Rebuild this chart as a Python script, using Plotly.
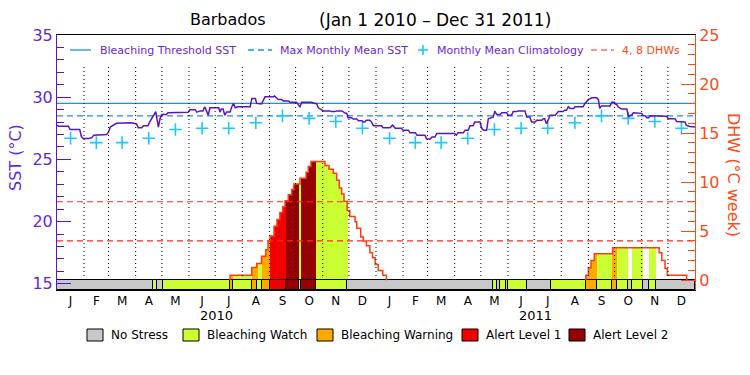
import pandas as pd
import plotly.graph_objects as go

# ---------------- data ----------------
START = pd.Timestamp("2010-01-01")
END = pd.Timestamp("2012-01-01")

MONTH_LETTERS = ["J", "F", "M", "A", "M", "J", "J", "A", "S", "O", "N", "D"]
YEARS = ["2010", "2011"]

# monthly mean climatology (deg C), Jan..Dec
CLIM_MONTHLY = [26.7, 26.35, 26.35, 26.7, 27.4, 27.5, 27.5, 27.95, 28.5, 28.3, 28.05, 27.5]
MMM = 28.5            # maximum monthly mean
THRESH_OFFSET = 1.0   # bleaching threshold = MMM + 1
DHW_LEVELS = [4, 8]

# SST series: (day since Jan 1 2010, deg C)
SST_SERIES = [
    (0, 27.75), (1.5, 27.67), (13, 27.67), (15, 27.4), (26, 27.4), (28, 26.82), (30, 26.68),
    (36, 26.68), (40, 26.75), (42, 26.95), (57, 27.0), (59, 27.2), (61, 27.6), (68, 27.9),
    (85, 27.95), (91, 27.85), (93, 27.54), (97, 27.54), (99, 27.7), (104, 27.7), (106, 28.0),
    (110, 28.43), (113, 28.83), (116, 27.6), (118, 28.3), (120, 28.6), (125, 28.6), (127, 28.75),
    (146, 28.78), (150, 28.78), (152, 29.0), (158, 29.0), (160, 28.8), (164, 28.9), (167, 28.9),
    (169, 29.23), (171, 28.9), (173, 28.55), (175, 29.15), (185, 29.15), (186.5, 28.8),
    (188, 29.05), (190, 29.05), (192, 28.55), (194, 28.8), (198, 28.8), (200, 29.23), (202, 29.5),
    (204, 29.15), (207, 29.23), (221, 29.23), (223, 29.9), (227, 29.9), (228.5, 29.5),
    (234, 29.45), (236, 29.82), (238, 30.03), (247.5, 30.03), (249, 30.1), (253, 29.82),
    (257, 29.82), (259, 29.7), (265, 29.7), (266.6, 29.6), (274, 29.6), (276, 29.4),
    (278, 29.23), (280, 29.6), (291, 29.6), (295, 29.5), (297, 29.5), (299, 29.15), (305, 28.9),
    (312, 28.9), (314, 28.84), (318, 28.84), (320, 28.9), (326, 28.9), (330, 28.7),
    (331.5, 28.7), (333, 28.35), (337, 28.35), (339, 28.24), (343, 28.24), (345, 28.1),
    (349, 28.1), (350.5, 28.0), (352, 28.0), (354, 28.15), (358, 28.15), (360, 28.0),
    (362, 27.7), (371.5, 27.7), (373, 27.54), (381, 27.54), (384, 27.75), (387, 27.5),
    (394, 27.5), (396, 27.35), (402, 27.35), (404, 27.14), (410, 27.14), (412, 26.95),
    (421, 26.95), (423, 26.63), (427, 26.63), (429, 26.8), (432.5, 26.8), (434.5, 27.08),
    (444, 27.08), (455, 27.08), (457, 26.95), (459, 27.15), (465, 27.15), (467, 27.35),
    (470.6, 27.35), (472.5, 27.7), (476, 27.7), (478, 28.0), (484, 28.0), (486, 27.5),
    (488, 27.35), (491.6, 27.35), (493.5, 28.27), (499, 28.4), (501, 28.88), (503, 28.6),
    (507, 28.6), (509, 28.75), (514.5, 28.75), (516, 28.55), (520, 28.55), (522, 28.84),
    (526, 28.84), (528, 28.9), (535.5, 28.9), (537.4, 28.4), (541, 28.4), (543, 28.0),
    (547, 28.0), (549, 28.15), (554.6, 28.15), (556.5, 28.27), (558, 28.27), (560, 27.87),
    (562, 28.15), (564, 28.55), (570, 28.55), (573.6, 28.84), (579, 28.84), (581, 28.95),
    (583, 28.95), (585, 29.23), (587, 29.1), (591, 29.1), (592.7, 29.23), (602, 29.23),
    (604, 29.5), (608, 29.8), (612, 29.95), (617.5, 29.95), (619.5, 29.8), (621, 29.1),
    (623, 29.3), (633, 29.3), (634.7, 29.6), (637.7, 29.6), (638.5, 29.45), (640, 29.45),
    (642, 29.23), (646, 29.05), (652, 29.05), (654, 28.4), (656, 28.55), (657.6, 28.55),
    (659.5, 28.75), (663, 28.75), (665, 28.7), (669, 28.7), (671, 28.5), (673, 28.5),
    (675, 28.35), (677, 28.35), (678.5, 28.5), (684, 28.5), (686, 28.47), (697.6, 28.47),
    (699.5, 28.27), (707, 28.27), (709, 28.05), (715, 28.05), (716.6, 28.0), (718.5, 28.0),
    (720, 27.75), (724, 27.65), (730, 27.6),
]

# Degree heating weeks, step function: (day a value starts, DHW)
DHW_STEPS = [
    (0, 0), (198, 0.5), (222.8, 1.3), (228.5, 1.7), (234, 2.45), (238.8, 3.1), (241.4, 4.0),
    (243.7, 4.5), (248.3, 5.5), (251.7, 6.2), (255, 6.9), (258.3, 7.5), (260.9, 8.1),
    (264.6, 8.7), (268.5, 9.25), (271, 9.8), (278, 10.4), (285, 11.0), (287.5, 11.6),
    (290.6, 12.1), (306.6, 11.7), (311.2, 11.3), (316, 10.9), (320, 10.2), (323, 9.4),
    (325.7, 8.8), (328.4, 8.06), (332, 7.1), (335, 6.5), (341, 5.95), (343, 5.3),
    (347.5, 4.4), (350.5, 4.0), (354, 3.5), (358, 2.8), (361, 2.3), (364, 1.6),
    (367.6, 1.0), (372.7, 0.5), (377, 0),
    (605, 0.5), (608, 1.26), (611, 2.0), (614.8, 2.7), (635.8, 3.3), (689, 2.8),
    (692, 2.0), (695.7, 1.2), (698.3, 0.5), (720.5, 0),
]

# Bleaching alert level: (day a level starts, level 0..4)
STRESS_STEPS = [
    (0, 0), (110.2, 1), (114.8, 0), (121.3, 1), (198, 2), (201.7, 1), (222.8, 2),
    (229.2, 1), (234.2, 2), (243.7, 3), (261.7, 4), (276.9, 1), (278.8, 4), (296.3, 1),
    (332.2, 0), (499.2, 1), (503.1, 0), (507.2, 1), (513.7, 0), (516.4, 1), (537.8, 0),
    (565.8, 1), (605, 2), (618.4, 1), (635.4, 2), (640.4, 1), (653.7, 0), (657.6, 1),
    (670.9, 0), (677.8, 1), (685, 0),
]
TOTAL_DAYS = 730

STRESS_NAMES = ["No Stress", "Bleaching Watch", "Bleaching Warning", "Alert Level 1", "Alert Level 2"]

# ---------------- styles ----------------
STRESS_COLORS = ["#c8c8c8", "#ccff33", "#ffaa00", "#f00000", "#960000"]
PURPLE = "#5a14c8"
PURPLE_TXT = "#6428dc"
BLUE = "#1e8cf0"
CYAN = "#1ec8ff"
ORANGE = "#ff4a14"
DHW_LINE = "#ff3c10"
DHW_DASH = "#ff2a1a"
FONT = "DejaVu Sans"

L, R, T, B = 57, 695, 35, 290


def day2date(d):
    return START + pd.to_timedelta(d, unit="D")


def px2x(px):
    return (px - L) / (R - L)


def px2y(py):
    return (B - py) / (B - T)


def intervals(steps):
    out = []
    for i, (d, v) in enumerate(steps):
        e = steps[i + 1][0] if i + 1 < len(steps) else TOTAL_DAYS
        out.append((d, e, v))
    return out


def label(text, x, y, size, color, xanchor="center", xref="paper", angle=0):
    return dict(text=text, x=x, y=y, xref=xref, yref="paper", xanchor=xanchor, yanchor="middle",
                textangle=angle, showarrow=False, font=dict(size=size, color=color, family=FONT))


fig = go.Figure()

# ---- DHW fill coloured by stress level ----
stress_iv = intervals(STRESS_STEPS)
dhw_iv = intervals(DHW_STEPS)
fill = {lvl: ([], [], []) for lvl in range(1, 5)}
for s0, s1, lvl in stress_iv:
    if lvl == 0:
        continue
    for d0, d1, v in dhw_iv:
        a, b = max(s0, d0), min(s1, d1)
        if b > a and v > 0:
            fill[lvl][0].append(day2date(a))
            fill[lvl][1].append((b - a) * 86400000.0)
            fill[lvl][2].append(v)
for lvl, (xs, ws, vs) in fill.items():
    if xs:
        fig.add_trace(go.Bar(x=xs, y=vs, width=ws, offset=0, base=0, yaxis="y2",
                             marker=dict(color=STRESS_COLORS[lvl], line=dict(width=0)),
                             hoverinfo="skip"))

# ---- alert strip ----
fig.add_trace(go.Bar(
    x=[day2date(a) for a, b, l in stress_iv],
    width=[(b - a) * 86400000.0 for a, b, l in stress_iv],
    y=[1] * len(stress_iv), base=-1, offset=0, yaxis="y2",
    marker=dict(color=[STRESS_COLORS[l] for a, b, l in stress_iv], line=dict(color="black", width=1)),
    hoverinfo="skip"))

# ---- DHW 4/8 reference lines ----
for lv in DHW_LEVELS:
    fig.add_trace(go.Scatter(x=[START, END], y=[lv, lv], yaxis="y2", mode="lines",
                             line=dict(color=DHW_DASH, width=1.2, dash="6px,4px"), hoverinfo="skip"))

# ---- DHW outline ----
lx, ly = [], []
prev = 0
for d, v in DHW_STEPS:
    if prev == 0 and v > 0:
        lx += [day2date(d), day2date(d)]
        ly += [0, v]
    elif prev > 0:
        lx.append(day2date(d))
        ly.append(v)
        if v == 0:
            lx.append(None)
            ly.append(None)
    prev = v
fig.add_trace(go.Scatter(x=lx, y=ly, yaxis="y2", mode="lines", line_shape="hv",
                         line=dict(color=DHW_LINE, width=1.5), connectgaps=False, hoverinfo="skip"))

# ---- SST side ----
fig.add_trace(go.Scatter(x=[START, END], y=[MMM + THRESH_OFFSET] * 2, mode="lines",
                         line=dict(color=BLUE, width=1.3), hoverinfo="skip"))
fig.add_trace(go.Scatter(x=[START, END], y=[MMM, MMM], mode="lines",
                         line=dict(color=BLUE, width=1.3, dash="6px,4px"), hoverinfo="skip"))

month_starts = pd.date_range(START, END, freq="MS")
mids = [month_starts[i] + (month_starts[i + 1] - month_starts[i]) / 2 for i in range(len(month_starts) - 1)]
fig.add_trace(go.Scatter(x=mids, y=CLIM_MONTHLY * len(YEARS), mode="markers",
                         marker=dict(symbol="cross-thin", size=9, line=dict(color=CYAN, width=1.6)),
                         hoverinfo="skip"))

fig.add_trace(go.Scatter(x=[day2date(d) for d, v in SST_SERIES], y=[v for d, v in SST_SERIES],
                         mode="lines", line=dict(color=PURPLE, width=1.5), hoverinfo="skip"))

# ---- shapes: dotted month lines ----
shapes = []
for ms in month_starts[1:-1]:
    shapes.append(dict(type="line", xref="x", yref="paper", x0=ms, x1=ms,
                       y0=px2y(280), y1=px2y(65), line=dict(color="black", width=1, dash="1px,3px")))

# ---- top legend ----
ly_top = px2y(50)
annotations = []
shapes.append(dict(type="line", xref="paper", yref="paper", x0=px2x(70), x1=px2x(91), y0=ly_top, y1=ly_top,
                   line=dict(color=BLUE, width=1.3)))
shapes.append(dict(type="line", xref="paper", yref="paper", x0=px2x(248), x1=px2x(272), y0=ly_top, y1=ly_top,
                   line=dict(color=BLUE, width=1.3, dash="6px,4px")))
shapes.append(dict(type="line", xref="paper", yref="paper", x0=px2x(418), x1=px2x(428), y0=ly_top, y1=ly_top,
                   line=dict(color=CYAN, width=1.6)))
shapes.append(dict(type="line", xref="paper", yref="paper", x0=px2x(423), x1=px2x(423),
                   y0=px2y(55), y1=px2y(45), line=dict(color=CYAN, width=1.6)))
shapes.append(dict(type="line", xref="paper", yref="paper", x0=px2x(591), x1=px2x(614), y0=ly_top, y1=ly_top,
                   line=dict(color=DHW_DASH, width=1.2, dash="6px,4px")))
for txt, px, col in [("Bleaching Threshold SST", 98, PURPLE_TXT), ("Max Monthly Mean SST", 278, PURPLE_TXT),
                     ("Monthly Mean Climatology", 435, PURPLE_TXT), ("4, 8 DHWs", 620, ORANGE)]:
    annotations.append(label(txt, px2x(px), ly_top, 11, col, xanchor="left"))

# ---- title ----
annotations.append(label("Barbados", px2x(228), px2y(20), 16, "black"))
annotations.append(label("(Jan 1 2010 \u2013 Dec 31 2011)", px2x(435), px2y(20), 17, "black"))

# ---- axis titles ----
annotations.append(label("SST (\u00b0C)", px2x(15), px2y(158), 16, PURPLE_TXT, angle=-90))
annotations.append(label("DHW (\u00b0C week)", px2x(734), px2y(175), 16, ORANGE, angle=90))

# ---- year labels ----
for yr in YEARS:
    annotations.append(label(yr, pd.Timestamp(f"{yr}-07-02"), px2y(315), 13, "black", xref="x"))

# ---- bottom legend ----
box_x = [87, 183, 317, 462, 569]
for name, col, bx in zip(STRESS_NAMES, STRESS_COLORS, box_x):
    shapes.append(dict(type="rect", xref="paper", yref="paper", x0=px2x(bx), x1=px2x(bx + 16),
                       y0=px2y(341), y1=px2y(329), fillcolor=col, line=dict(color="black", width=1)))
    annotations.append(label(name, px2x(bx + 22), px2y(335), 12, "black", xanchor="left"))

fig.update_layout(
    width=750, height=375,
    margin=dict(l=L, r=750 - R, t=T, b=375 - B),
    plot_bgcolor="white", paper_bgcolor="white",
    showlegend=False, barmode="overlay", bargap=0,
    font=dict(family=FONT),
    shapes=shapes, annotations=annotations,
    xaxis=dict(type="date", range=[START, END], showline=True, linecolor="black", linewidth=1,
               mirror=True, showgrid=False, zeroline=False, tickmode="array", tickvals=mids,
               ticktext=MONTH_LETTERS * len(YEARS), ticks="", tickfont=dict(size=12, color="black")),
    yaxis=dict(range=[14.5, 35], tick0=0, dtick=5, ticks="inside", ticklen=14, tickcolor=PURPLE,
               minor=dict(dtick=1, ticks="inside", ticklen=7, tickcolor=PURPLE),
               showline=True, linecolor=PURPLE, showgrid=False, zeroline=False,
               tickfont=dict(size=16, color=PURPLE_TXT)),
    yaxis2=dict(range=[-1, 25], overlaying="y", side="right", tick0=0, dtick=5, ticks="inside",
                ticklen=14, tickcolor=ORANGE,
                minor=dict(dtick=1, ticks="inside", ticklen=7, tickcolor=ORANGE),
                showline=True, linecolor=ORANGE, showgrid=False, zeroline=False,
                tickfont=dict(size=16, color=ORANGE)),
)

fig.write_html("out.html", post_script="document.body.style.margin='0px';",
               config={"displayModeBar": False})
